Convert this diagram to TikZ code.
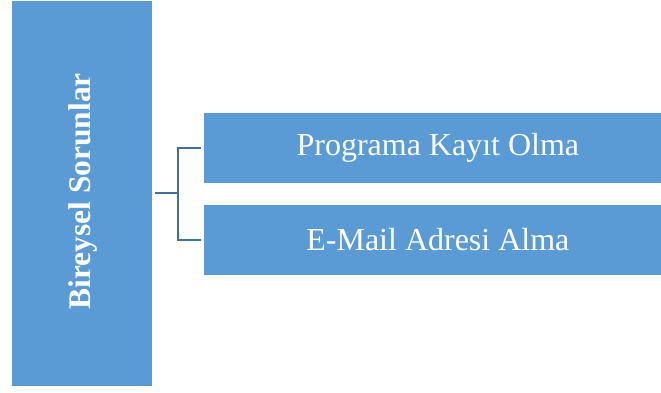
\documentclass[tikz,border=0pt]{standalone}
\usepackage{fontspec}
\setmainfont{Liberation Serif}
\definecolor{boxblue}{HTML}{5B9BD5}
\definecolor{lineblue}{HTML}{41719C}
\begin{document}
\begin{tikzpicture}[x=1pt,y=-1pt,
  bluebox/.style={fill=boxblue,draw=white,line width=0.8pt,inner sep=0pt,text=white},
  conn/.style={draw=lineblue,line width=2.8pt}]
\useasboundingbox (0,0) rectangle (661,392);
\node[bluebox,minimum width=141pt,minimum height=386pt,anchor=north west] (main) at (11,0) {};
\node[rotate=90,text=white,font=\fontsize{31.5}{36}\selectfont\bfseries] (mainlbl) at ([xshift=1pt,yshift=2pt]main.center) {Bireysel Sorunlar};
\node[bluebox,minimum width=459pt,minimum height=71pt,anchor=north west,font=\fontsize{32}{36}\selectfont] (a) at (203,112) {\hspace{10pt}Programa Kayıt Olma};
\node[bluebox,minimum width=459pt,minimum height=71pt,anchor=north west,font=\fontsize{32}{36}\selectfont] (b) at (203,204) {\hspace{10pt}E-Mail Adresi Alma};
\coordinate (s) at (155,193);
\coordinate (j) at (178,193);
\draw[conn] (s) -- (j);
\draw[conn] (a.west) ++(-2,0) coordinate (ae) -| (j) |- (b.west -| ae);
\end{tikzpicture}
\end{document}
